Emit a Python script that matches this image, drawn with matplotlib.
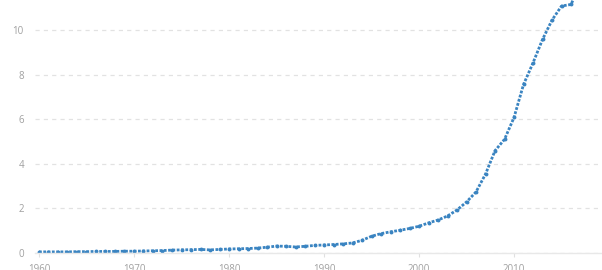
import matplotlib
matplotlib.use('Agg')
import matplotlib.pyplot as plt

years = list(range(1960, 2018))
values = [0.05, 0.05, 0.05, 0.05, 0.06, 0.06, 0.07, 0.07, 0.07, 0.08,
          0.08, 0.09, 0.10, 0.11, 0.13, 0.14, 0.15, 0.16, 0.14, 0.16,
          0.18, 0.19, 0.20, 0.22, 0.26, 0.31, 0.30, 0.27, 0.30, 0.34,
          0.36, 0.38, 0.41, 0.45, 0.57, 0.75, 0.87, 0.95, 1.02, 1.10,
          1.20, 1.35, 1.48, 1.66, 1.93, 2.29, 2.74, 3.54, 4.59, 5.10,
          6.08, 7.56, 8.53, 9.58, 10.45, 11.08, 11.15, 12.10]
x_ticks = [1960, 1970, 1980, 1990, 2000, 2010]
y_ticks = [0, 2, 4, 6, 8, 10]

plt.rcParams['font.family'] = ['Open Sans', 'DejaVu Sans']
plt.rcParams['lines.scale_dashes'] = False

fig = plt.figure(figsize=(6.02, 2.70), dpi=100)
ax = fig.add_axes([35 / 602, 17 / 270, 567 / 602, 253 / 270])

line_color = '#3a84c1'
ax.plot(years, values, color=line_color, linewidth=2.0,
        linestyle=(0, (2.0, 1.1)), dash_capstyle='butt',
        marker='o', markersize=2.8, markeredgewidth=0)

ax.set_xlim(1959.58, 2019.26)
ax.set_ylim(0, 11.35)
ax.set_xticks(x_ticks)
ax.set_yticks(y_ticks)
ax.set_xticklabels([str(t) for t in x_ticks])
ax.set_yticklabels([str(t) for t in y_ticks])

ax.grid(axis='y', color='#e2e2e2', linestyle=(0, (3, 3)), linewidth=0.9)
ax.set_axisbelow(True)

for side in ['top', 'right', 'left']:
    ax.spines[side].set_visible(False)
ax.spines['bottom'].set_color('#e8e8e8')
ax.spines['bottom'].set_linewidth(1.0)

ax.tick_params(axis='x', colors='#e0e0e0', length=3, width=0.8,
               labelcolor='#a0a0a0', labelsize=7, pad=5)
ax.tick_params(axis='y', length=0, labelcolor='#a0a0a0', labelsize=7, pad=8)

fig.savefig('out.png', dpi=100)
